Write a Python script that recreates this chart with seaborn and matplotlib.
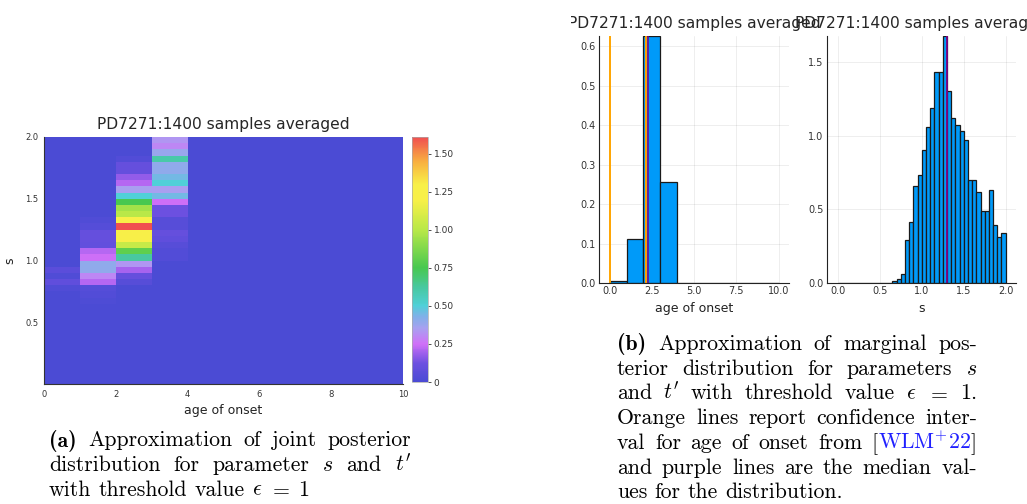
import numpy as np
import pandas as pd
import matplotlib
matplotlib.use("Agg")
import matplotlib.pyplot as plt
import seaborn as sns
from matplotlib.colors import LinearSegmentedColormap
from matplotlib.transforms import Bbox

W_PX, H_PX = 1027, 504

# ---------------- data ----------------
title = "PD7271:1400 samples averaged"
age_label = "age of onset"
s_label = "s"

age_edges = [0, 1, 2, 3, 4, 5, 6, 7, 8, 9, 10]
age_density = [0.005, 0.112, 0.626, 0.257, 0, 0, 0, 0, 0, 0]

s_edges = list(np.round(np.arange(0, 41) * 0.05, 2))
s_density = [
    0, 0, 0, 0, 0, 0, 0, 0, 0, 0,
    0, 0, 0, 0.016, 0.03, 0.06, 0.29, 0.415, 0.66, 0.73,
    0.90, 1.06, 1.19, 1.43, 1.43, 1.675, 1.30, 1.12, 1.07, 1.03,
    0.97, 0.70, 0.70, 0.62, 0.49, 0.49, 0.63, 0.39, 0.31, 0.34,
]

# joint density (rows: s bins ascending, 0.05 wide), one list per age bin
heat_age0 = [
    0, 0, 0, 0, 0, 0, 0, 0, 0, 0,
    0, 0, 0, 0, 0, 0.02, 0.08, 0.02, 0.06, 0,
    0, 0, 0, 0, 0, 0, 0, 0, 0, 0,
    0, 0, 0, 0, 0, 0, 0, 0, 0, 0,
]
heat_age1 = [
    0, 0, 0, 0, 0, 0, 0, 0, 0, 0,
    0, 0, 0, 0.016, 0.03, 0.04, 0.22, 0.30, 0.40, 0.40,
    0.25, 0.22, 0.09, 0.10, 0.10, 0.04, 0.02, 0, 0, 0,
    0, 0, 0, 0, 0, 0, 0, 0, 0, 0,
]
heat_age2 = [
    0, 0, 0, 0, 0, 0, 0, 0, 0, 0,
    0, 0, 0, 0, 0, 0, 0.05, 0.10, 0.20, 0.33,
    0.62, 0.80, 1.05, 1.30, 1.30, 1.61, 1.25, 1.00, 0.95, 0.75,
    0.50, 0.35, 0.22, 0.17, 0.10, 0.10, 0.03, 0, 0, 0,
]
heat_age3 = [
    0, 0, 0, 0, 0, 0, 0, 0, 0, 0,
    0, 0, 0, 0, 0, 0, 0, 0, 0, 0,
    0.03, 0.03, 0.05, 0.08, 0.10, 0.05, 0.05, 0.12, 0.12, 0.25,
    0.45, 0.35, 0.50, 0.45, 0.40, 0.40, 0.60, 0.38, 0.30, 0.33,
]
heat_empty = [0] * 40
heat_columns = [heat_age0, heat_age1, heat_age2, heat_age3,
                heat_empty, heat_empty, heat_empty, heat_empty, heat_empty, heat_empty]

ci_lines = [0.0, 2.13]
age_median = 2.28
s_median = 1.305

heat_xticks = [0, 2, 4, 6, 8, 10]
heat_yticks = [0.5, 1.0, 1.5, 2.0]
cbar_ticks = [0, 0.25, 0.5, 0.75, 1.0, 1.25, 1.5]
cbar_ticklabels = ["0", "0.25", "0.50", "0.75", "1.00", "1.25", "1.50"]
age_xticks = [0, 2.5, 5, 7.5, 10]
age_yticks = [0, 0.1, 0.2, 0.3, 0.4, 0.5, 0.6]
s_xticks = [0, 0.5, 1.0, 1.5, 2.0]
s_yticks = [0, 0.5, 1.0, 1.5]

# ---------------- style ----------------
sns.set_theme(style="white")
plt.rcParams.update({
    "font.family": ["DejaVu Sans"],
    "mathtext.fontset": "cm",
    "axes.edgecolor": "#222222",
    "axes.linewidth": 0.8,
    "xtick.color": "#333333",
    "ytick.color": "#333333",
    "axes.labelcolor": "#222222",
})

cmap = LinearSegmentedColormap.from_list("plots_rainbow", [
    (0.000, "#4b4bd4"),
    (0.075, "#6c50e0"),
    (0.155, "#d070f8"),
    (0.217, "#a8a0f0"),
    (0.267, "#80b0e8"),
    (0.310, "#50d0d8"),
    (0.385, "#48c8a0"),
    (0.466, "#48c850"),
    (0.621, "#b8e848"),
    (0.745, "#f8f048"),
    (0.807, "#f8f048"),
    (0.900, "#f8b040"),
    (1.000, "#f05050"),
])

fig = plt.figure(figsize=(W_PX / 100, H_PX / 100), dpi=100)


def frac_box(l, t, r, b):
    return [l / W_PX, 1 - b / H_PX, (r - l) / W_PX, (b - t) / H_PX]


# ---------------- heatmap ----------------
ax_h = fig.add_axes(frac_box(44, 137, 403, 384))
cax = fig.add_axes(frac_box(412, 137, 428, 382))

s_bin_labels = [f"{a:.2f}" for a in s_edges[:-1]]
heat_df = pd.DataFrame({age_edges[i]: heat_columns[i] for i in range(10)}, index=s_bin_labels)
vmax = max(max(c) for c in heat_columns)
sns.heatmap(heat_df, ax=ax_h, cmap=cmap, vmin=0, vmax=vmax, cbar_ax=cax,
            xticklabels=False, yticklabels=False)
nrows = len(s_edges) - 1
ax_h.set_ylim(0, nrows)
ax_h.set_xlim(0, 10)
ax_h.set_xticks(heat_xticks)
ax_h.set_xticklabels([str(v) for v in heat_xticks], fontsize=6)
ax_h.set_yticks(list(np.interp(heat_yticks, s_edges, np.arange(nrows + 1))))
ax_h.set_yticklabels([f"{v:.1f}" for v in heat_yticks], fontsize=6)
ax_h.tick_params(length=2, width=0.6, pad=2, direction="out")
for side in ["left", "bottom"]:
    ax_h.spines[side].set_visible(True)
    ax_h.spines[side].set_color("#333333")
ax_h.set_xlabel(age_label, fontsize=9)
ax_h.set_ylabel(s_label, fontsize=9)
ax_h.yaxis.set_label_coords(-0.076, 0.5)
ax_h.set_title(title, fontsize=11.2, pad=6)

cbar = ax_h.collections[0].colorbar
cbar.set_ticks(cbar_ticks)
cbar.set_ticklabels(cbar_ticklabels)
cbar.ax.tick_params(labelsize=6.5, length=2.5, width=0.6, pad=1.5)
cbar.outline.set_linewidth(0.5)
cbar.outline.set_edgecolor("#aaaaaa")

# ---------------- histograms ----------------
bar_color = "#009af9"
edge_color = "#1a1a1a"
grid_kw = dict(color="#000000", alpha=0.08, linewidth=0.6)


def style_hist(ax):
    sns.despine(ax=ax)
    ax.set_axisbelow(True)
    ax.grid(True, **grid_kw)
    ax.tick_params(labelsize=7, length=2.5, width=0.6, pad=2.5, direction="in")
    ax.set_ylabel("")


ax_a = fig.add_axes(frac_box(599, 36, 789, 283))
age_centers = [(age_edges[i] + age_edges[i + 1]) / 2 for i in range(len(age_density))]
sns.histplot(x=age_centers, weights=age_density, bins=age_edges, ax=ax_a,
             color=bar_color, edgecolor=edge_color, linewidth=0.9, alpha=1)
for x in ci_lines:
    ax_a.axvline(x, color="#ffa500", lw=1.4)
ax_a.axvline(age_median, color="#800080", lw=1.1)
ax_a.set_xlim(-0.63, 10.61)
ax_a.set_ylim(0, max(age_density))
ax_a.set_xticks(age_xticks)
ax_a.set_xticklabels([f"{v:.1f}" for v in age_xticks])
ax_a.set_yticks(age_yticks)
ax_a.set_yticklabels([f"{v:.1f}" for v in age_yticks])
style_hist(ax_a)
ax_a.set_xlabel(age_label, fontsize=9)
t1 = ax_a.set_title(title, fontsize=11.2, pad=6)
t1.set_clip_box(Bbox([[571, 0], [W_PX, H_PX]]))
t1.set_clip_on(True)

ax_s = fig.add_axes(frac_box(827, 36, 1016, 283))
s_centers = [(s_edges[i] + s_edges[i + 1]) / 2 for i in range(len(s_density))]
sns.histplot(x=s_centers, weights=s_density, bins=s_edges, ax=ax_s,
             color=bar_color, edgecolor=edge_color, linewidth=0.9, alpha=1)
ax_s.axvline(s_median, color="#800080", lw=1.3)
ax_s.set_xlim(-0.13, 2.123)
ax_s.set_ylim(0, max(s_density))
ax_s.set_xticks(s_xticks)
ax_s.set_xticklabels([f"{v:.1f}" for v in s_xticks])
ax_s.set_yticks(s_yticks)
ax_s.set_yticklabels([f"{v:.1f}" for v in s_yticks])
style_hist(ax_s)
ax_s.set_xlabel(s_label, fontsize=9)
ax_s.set_title(title, fontsize=11.2, pad=6)

# ---------------- captions ----------------
FS = 15.7
reg = dict(family="cmr10", size=FS, color="black")
bold = dict(family="cmb10", size=FS, color="black")
blue = dict(family="cmr10", size=FS, color="#2020ff")

renderer = fig.canvas.get_renderer()


def seg_width(s, p):
    t = fig.text(0, 0, s, **p)
    w = t.get_window_extent(renderer).width
    t.remove()
    return w


space_w = seg_width("a a", reg) - 2 * seg_width("a", reg)


def W(*words):
    return [[(w, reg)] for w in words]


def draw_par(lines, x0, x1, baselines):
    for li, (words, y) in enumerate(zip(lines, baselines)):
        widths = [[seg_width(s, p) for s, p in word] for word in words]
        totals = [sum(ws) for ws in widths]
        if li == len(lines) - 1:
            gap = space_w
        else:
            gap = (x1 - x0 - sum(totals)) / (len(words) - 1)
        x = x0
        for word, ws in zip(words, widths):
            xx = x
            for (s, p), w in zip(word, ws):
                fig.text(xx / W_PX, 1 - y / H_PX, s, ha="left", va="baseline", **p)
                xx += w
            x += sum(ws) + gap


cap_a = [
    [[("(a)", bold)]] + W("Approximation", "of", "joint", "posterior"),
    W("distribution", "for", "parameter", "$s$", "and", "$t'$"),
    W("with", "threshold", "value", r"$\epsilon$", "$=$", "$1$"),
]
draw_par(cap_a, 49, 411, [446.5, 471, 495.5])

cap_b = [
    [[("(b)", bold)]] + W("Approximation", "of", "marginal", "pos-"),
    W("terior", "distribution", "for", "parameters", "$s$"),
    W("and", "$t'$", "with", "threshold", "value", r"$\epsilon$", "$=$", "$1$."),
    W("Orange", "lines", "report", "confidence", "inter-"),
    W("val", "for", "age", "of", "onset", "from") + [[("[", reg), ("WLM$^{+}$22", blue), ("]", reg)]],
    W("and", "purple", "lines", "are", "the", "median", "val-"),
    W("ues", "for", "the", "distribution."),
]
draw_par(cap_b, 617, 977, [350, 374.7, 399.3, 424, 449, 473.7, 498.3])

fig.savefig("out.png", dpi=100)
